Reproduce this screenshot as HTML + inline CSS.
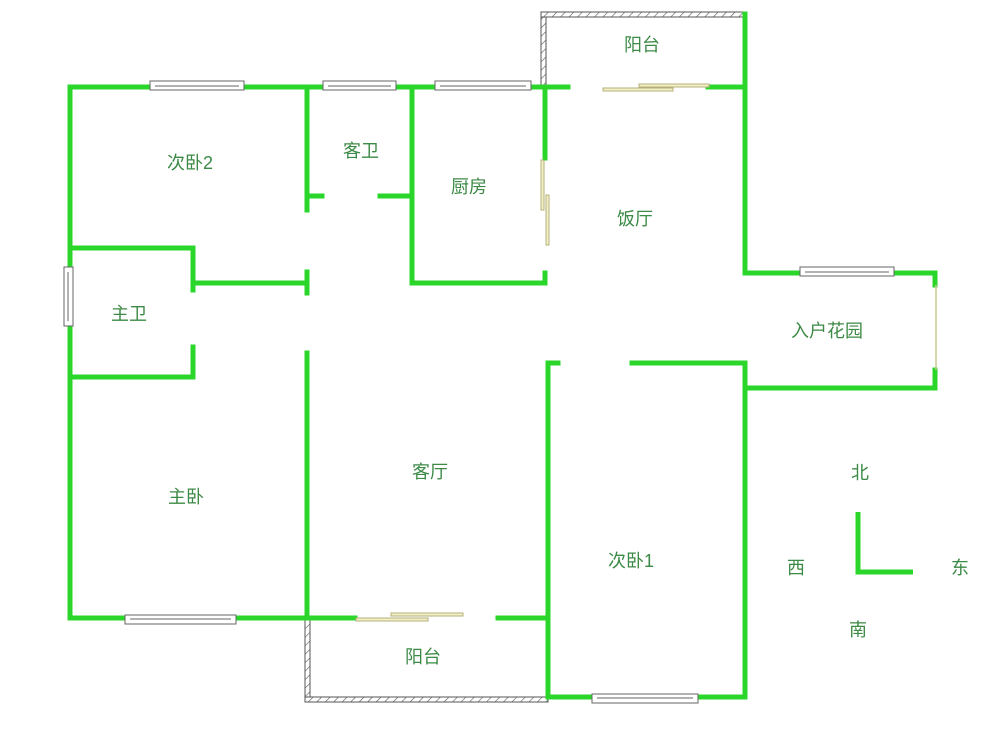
<!DOCTYPE html>
<html><head><meta charset="utf-8"><style>
html,body{margin:0;padding:0;background:#fff;}
svg{display:block}
text{font-family:"Liberation Sans","Noto Sans CJK SC",sans-serif;font-size:18px;fill:#3c8a46;text-anchor:middle;dominant-baseline:middle}
</style></head><body>
<svg width="1000" height="742" viewBox="0 0 1000 742" xmlns="http://www.w3.org/2000/svg">
<defs>
<pattern id="h" width="6" height="6" patternUnits="userSpaceOnUse" patternTransform="rotate(45)">
<rect width="6" height="6" fill="#fff"/><line x1="0" y1="0" x2="0" y2="6" stroke="#555" stroke-width="1.2"/></pattern>
</defs>
<!-- hatched balcony walls -->
<rect x="541" y="12" width="5" height="75" fill="url(#h)" stroke="#555" stroke-width="1"/>
<rect x="541" y="12" width="206" height="5" fill="url(#h)" stroke="#555" stroke-width="1"/>
<rect x="305" y="618" width="5" height="84" fill="url(#h)" stroke="#555" stroke-width="1"/>
<rect x="305" y="697" width="243" height="5" fill="url(#h)" stroke="#555" stroke-width="1"/>
<g stroke="#2bd62b" stroke-width="5" fill="none" stroke-linecap="square">
<!-- outer -->
<path d="M70 87 V618"/>
<path d="M70 87 H568"/>
<path d="M745 14 V273 H935 V285"/>
<path d="M708 87 H745"/>
<path d="M935 370 V388 H745"/>
<path d="M745 365 V697 H548"/>
<path d="M632 363 H745"/>
<path d="M548 363 V697"/>
<path d="M548 363 H558"/>
<path d="M70 618 H307"/>
<path d="M307 618 H355"/>
<path d="M498 618 H548"/>
<!-- interior -->
<path d="M307 87 V210"/>
<path d="M307 196 H322"/>
<path d="M307 272 V293"/>
<path d="M307 353 V618"/>
<path d="M70 248 H193 V290"/>
<path d="M193 283 H307"/>
<path d="M70 377 H193 V347"/>
<path d="M412 87 V283 H545 V273"/>
<path d="M380 196 H412"/>
<path d="M545 87 V158"/>
</g>
<!-- windows -->
<g fill="#fff" stroke="#666" stroke-width="1">
<rect x="150" y="81" width="94" height="9"/><line x1="155" y1="86" x2="239" y2="86"/>
<rect x="323" y="81" width="73" height="9"/><line x1="328" y1="86" x2="391" y2="86"/>
<rect x="435" y="81" width="96" height="9"/><line x1="440" y1="86" x2="526" y2="86"/>
<rect x="800" y="267" width="94" height="9"/><line x1="805" y1="272" x2="889" y2="272"/>
<rect x="125" y="615" width="111" height="9"/><line x1="130" y1="619" x2="231" y2="619"/>
<rect x="592" y="694" width="106" height="9"/><line x1="597" y1="698" x2="693" y2="698"/>
<rect x="64" y="267" width="9" height="59"/><line x1="68" y1="272" x2="68" y2="321"/>
</g>
<line x1="936" y1="285" x2="936" y2="370" stroke="#c8c890" stroke-width="1.5"/>
<!-- sliding doors -->
<g fill="#f3f0c8" stroke="#b5b07a" stroke-width="1">
<rect x="603" y="88" width="70" height="3"/><rect x="639" y="84" width="70" height="3"/>
<rect x="356" y="618" width="72" height="3"/><rect x="391" y="613" width="72" height="3"/>
<rect x="541" y="160" width="3" height="50"/><rect x="546" y="195" width="3" height="50"/>
</g>
<!-- compass -->
<path d="M858 512 V572 H913" stroke="#2bd62b" stroke-width="5" fill="none"/>
<!-- labels -->
<text x="642" y="46">阳台</text>
<text x="190" y="164">次卧2</text>
<text x="361" y="152">客卫</text>
<text x="469" y="188">厨房</text>
<text x="635" y="220">饭厅</text>
<text x="129" y="315">主卫</text>
<text x="827" y="332">入户花园</text>
<text x="430" y="473">客厅</text>
<text x="186" y="498">主卧</text>
<text x="631" y="562">次卧1</text>
<text x="423" y="658">阳台</text>
<text x="860" y="474">北</text>
<text x="796" y="569">西</text>
<text x="960" y="569">东</text>
<text x="858" y="631">南</text>
</svg>
</body></html>
